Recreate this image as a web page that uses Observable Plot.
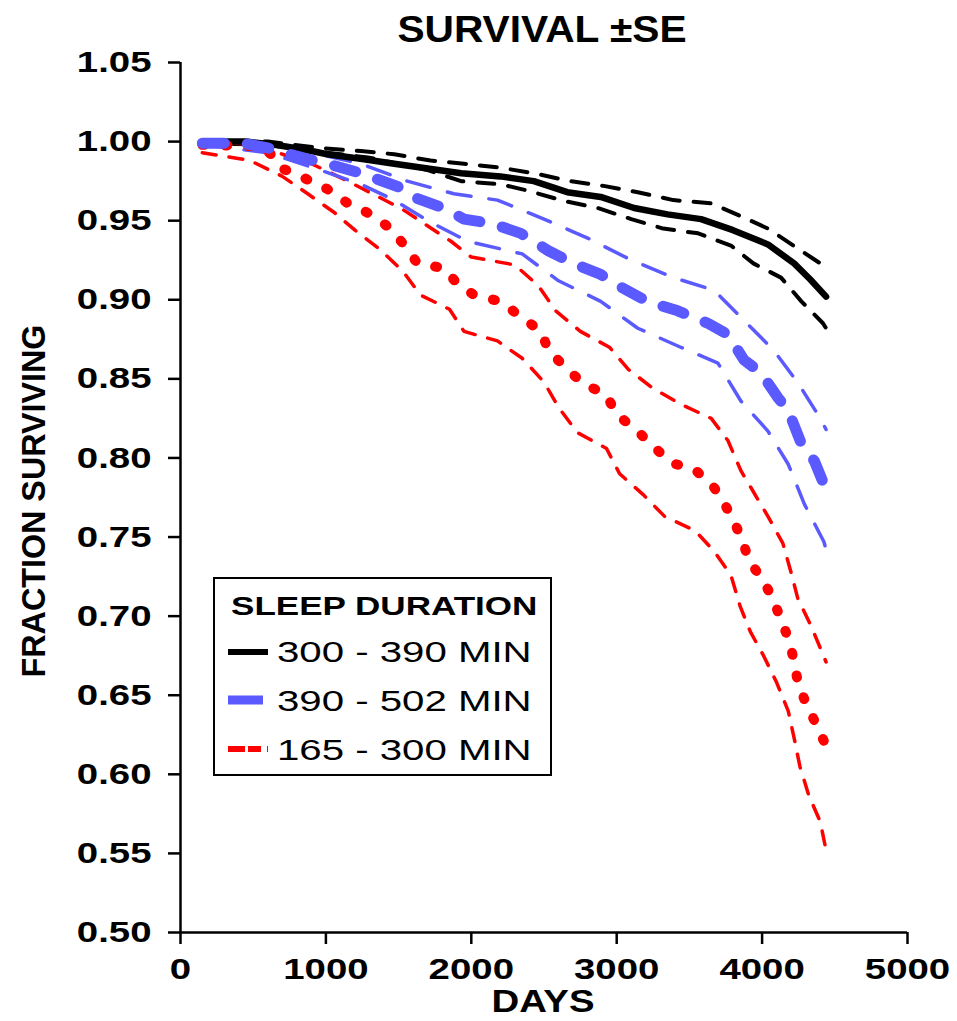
<!DOCTYPE html>
<html><head><meta charset="utf-8">
<script src="https://cdn.jsdelivr.net/npm/d3@7"></script>
<script src="https://cdn.jsdelivr.net/npm/@observablehq/plot@0.6"></script>
<style>body{margin:0;background:#fff}#chart{position:relative;width:957px;height:1021px}</style>
</head><body><div id="chart"></div>
<script>
// ---- data ----
const xTicks = [0, 1000, 2000, 3000, 4000, 5000];
const yTicks = [0.50, 0.55, 0.60, 0.65, 0.70, 0.75, 0.80, 0.85, 0.90, 0.95, 1.00, 1.05];
const seriesLabels = ["300 - 390 MIN", "390 - 502 MIN", "165 - 300 MIN"];

// 300 - 390 MIN (black)
const blackDays = [150, 450, 650, 850, 1010, 1250, 1470, 1700, 1930, 2200, 2430, 2660, 2890, 3120, 3350, 3580, 3800, 4040, 4220, 4330, 4440];
const blackSurv = [1.000, 1.000, 0.998, 0.995, 0.992, 0.989, 0.986, 0.983, 0.980, 0.978, 0.975, 0.968, 0.965, 0.958, 0.954, 0.951, 0.944, 0.935, 0.923, 0.913, 0.902];
const blackUpDays = [150, 600, 950, 1240, 1470, 1720, 1950, 2200, 2430, 2680, 2910, 3145, 3390, 3650, 3850, 4040, 4220, 4400, 4440];
const blackUpSurv = [1.000, 1.000, 0.996, 0.994, 0.992, 0.988, 0.986, 0.9835, 0.980, 0.975, 0.972, 0.968, 0.963, 0.961, 0.953, 0.945, 0.934, 0.923, 0.920];
const blackLoDays = [150, 600, 900, 1290, 1700, 1930, 2200, 2390, 2615, 2870, 3100, 3320, 3560, 3790, 3940, 4130, 4270, 4420, 4440];
const blackLoSurv = [0.999, 0.998, 0.994, 0.990, 0.982, 0.975, 0.973, 0.969, 0.963, 0.958, 0.951, 0.945, 0.942, 0.934, 0.923, 0.914, 0.899, 0.885, 0.882];

// 390 - 502 MIN (blue)
const blueDays = [150, 430, 600, 830, 1050, 1240, 1510, 1600, 1810, 1950, 2150, 2340, 2530, 2700, 2890, 3030, 3210, 3420, 3630, 3765, 3875, 3990, 4110, 4180, 4270, 4360, 4440];
const blueSurv = [0.999, 0.999, 0.996, 0.990, 0.985, 0.980, 0.971, 0.965, 0.958, 0.951, 0.948, 0.942, 0.931, 0.923, 0.916, 0.908, 0.899, 0.893, 0.885, 0.878, 0.862, 0.854, 0.838, 0.830, 0.809, 0.798, 0.780];
const blueUpDays = [150, 600, 900, 1240, 1560, 1880, 2180, 2500, 2800, 3080, 3390, 3670, 3875, 4080, 4250, 4400, 4440];
const blueUpSurv = [1.000, 0.999, 0.993, 0.986, 0.975, 0.967, 0.963, 0.951, 0.939, 0.926, 0.914, 0.906, 0.887, 0.868, 0.847, 0.825, 0.818];
const blueLoDays = [150, 600, 960, 1240, 1470, 1700, 1975, 2350, 2600, 2890, 3145, 3440, 3696, 3854, 4040, 4180, 4290, 4425, 4440];
const blueLoSurv = [0.998, 0.993, 0.982, 0.973, 0.963, 0.950, 0.937, 0.929, 0.912, 0.899, 0.882, 0.870, 0.860, 0.836, 0.817, 0.796, 0.771, 0.747, 0.742];

// 165 - 300 MIN (red)
const redDays = [150, 550, 650, 700, 850, 1010, 1150, 1310, 1445, 1535, 1630, 1810, 1906, 2020, 2200, 2330, 2480, 2530, 2650, 2770, 2930, 2994, 3130, 3235, 3370, 3530, 3650, 3730, 3806, 3868, 3909, 4005, 4074, 4129, 4184, 4219, 4246, 4301, 4370, 4440];
const redSurv = [0.998, 0.997, 0.990, 0.983, 0.977, 0.970, 0.961, 0.954, 0.945, 0.935, 0.923, 0.920, 0.910, 0.903, 0.899, 0.890, 0.880, 0.868, 0.857, 0.847, 0.840, 0.828, 0.818, 0.809, 0.797, 0.793, 0.784, 0.773, 0.760, 0.747, 0.735, 0.723, 0.711, 0.698, 0.685, 0.672, 0.658, 0.645, 0.632, 0.618];
const redUpDays = [150, 550, 700, 900, 1150, 1300, 1530, 1860, 2000, 2300, 2460, 2580, 2750, 2950, 3080, 3250, 3440, 3650, 3765, 3854, 3944, 4047, 4143, 4198, 4246, 4336, 4440];
const redUpSurv = [1.000, 0.998, 0.992, 0.986, 0.975, 0.968, 0.957, 0.937, 0.927, 0.922, 0.909, 0.893, 0.880, 0.870, 0.856, 0.844, 0.834, 0.825, 0.811, 0.792, 0.778, 0.762, 0.746, 0.728, 0.711, 0.694, 0.671];
const redLoDays = [150, 480, 700, 860, 1060, 1200, 1370, 1530, 1650, 1850, 1950, 2180, 2350, 2500, 2600, 2730, 2930, 3020, 3180, 3330, 3540, 3670, 3785, 3850, 3920, 4010, 4100, 4180, 4220, 4260, 4320, 4400, 4440];
const redLoSurv = [0.993, 0.988, 0.978, 0.968, 0.955, 0.944, 0.932, 0.918, 0.903, 0.894, 0.880, 0.874, 0.863, 0.848, 0.832, 0.816, 0.806, 0.790, 0.777, 0.763, 0.754, 0.741, 0.726, 0.706, 0.690, 0.675, 0.658, 0.640, 0.623, 0.605, 0.587, 0.570, 0.552];

const BLACK = "#000000", BLUE = "#5a5aff", RED = "#ff0000";
const FONT = "'Liberation Sans', Arial, Helvetica, sans-serif";

const toRows = (days, surv) => days.map((d, i) => ({day: d, surv: surv[i]}));
const line = (days, surv, opts) => Plot.line(toRows(days, surv), {x: "day", y: "surv", fill: "none", ...opts});

const plot = Plot.plot({
  width: 957, height: 1021,
  marginTop: 62, marginBottom: 89, marginLeft: 180, marginRight: 50,
  style: {fontFamily: FONT, fontSize: "30px", fontWeight: "bold", color: "#000", background: "#fff", overflow: "visible"},
  x: {domain: [0, 5000]},
  y: {domain: [0.5, 1.05]},
  marks: [
    Plot.axisX({ticks: xTicks, tickSize: 12, tickPadding: 13, tickFormat: d => String(d), strokeWidth: 2.5, label: null}),
    Plot.axisY({ticks: yTicks, tickSize: 12, tickPadding: 17, tickFormat: d => d.toFixed(2), strokeWidth: 2.5, label: null}),
    Plot.ruleX([0], {strokeWidth: 2.5}),
    Plot.ruleY([0.5], {strokeWidth: 2.5}),
    // SE bands (dashed)
    line(blackUpDays, blackUpSurv, {stroke: BLACK, strokeWidth: 4, strokeDasharray: "17,14"}),
    line(blackLoDays, blackLoSurv, {stroke: BLACK, strokeWidth: 4, strokeDasharray: "17,14"}),
    line(redUpDays, redUpSurv, {stroke: RED, strokeWidth: 3.5, strokeDasharray: "14,13"}),
    line(redLoDays, redLoSurv, {stroke: RED, strokeWidth: 3.5, strokeDasharray: "14,13"}),
    line(blueUpDays, blueUpSurv, {stroke: BLUE, strokeWidth: 3.5, strokeDasharray: "24,18"}),
    line(blueLoDays, blueLoSurv, {stroke: BLUE, strokeWidth: 3.5, strokeDasharray: "24,18"}),
    // main curves
    line(blackDays, blackSurv, {stroke: BLACK, strokeWidth: 6.5}),
    line(redDays, redSurv, {stroke: RED, strokeWidth: 10, strokeDasharray: "2,21", strokeLinecap: "round"}),
    line(blueDays, blueSurv, {stroke: BLUE, strokeWidth: 11, strokeDasharray: "22,23", strokeLinecap: "round"})
  ]
});

// widen tick-label glyphs horizontally around their anchor point (reference glyphs are wide)
function stretch(el, s) {
  const T = el.getAttribute("transform") || "";
  const ax = +el.getAttribute("x") || 0;
  const ay = +el.getAttribute("y") || 0;
  el.setAttribute("transform", `${T} translate(${ax},${ay}) scale(${s},1) translate(${-ax},${-ay})`);
}
plot.querySelectorAll("text").forEach(t => stretch(t, 1.28));

const svg = d3.select(plot);
function addText(str, tx, ty, {size, weight = "bold", anchor = "middle", sx = 1, rotate = 0}) {
  svg.append("text")
    .attr("transform", `translate(${tx},${ty})${rotate ? ` rotate(${rotate})` : ""} scale(${sx},1)`)
    .attr("text-anchor", anchor)
    .attr("font-family", FONT)
    .attr("font-size", size)
    .attr("font-weight", weight)
    .attr("fill", "#000")
    .text(str);
}

// title and axis titles
addText("SURVIVAL \u00B1SE", 542, 42, {size: 37, sx: 1.1});
addText("DAYS", 543, 1012, {size: 32, sx: 1.2});
addText("FRACTION SURVIVING", 45, 501, {size: 34, sx: 0.95, rotate: -90});

// legend
const lg = svg.append("g");
lg.append("rect").attr("x", 214).attr("y", 578).attr("width", 337).attr("height", 197)
  .attr("fill", "#fff").attr("stroke", "#000").attr("stroke-width", 2);
addText("SLEEP DURATION", 231, 615, {size: 25.6, anchor: "start", sx: 1.37});
const swatches = [
  {color: BLACK, w: 6, x2: 268, dash: null, y: 652},
  {color: BLUE, w: 9, x2: 263, dash: null, y: 700},
  {color: RED, w: 6, x2: 268, dash: "17,3,13,6", y: 749}
];
swatches.forEach(s => {
  const l = lg.append("line").attr("x1", 228).attr("x2", s.x2).attr("y1", s.y).attr("y2", s.y)
    .attr("stroke", s.color).attr("stroke-width", s.w);
  if (s.dash) l.attr("stroke-dasharray", s.dash);
});
const labelBaselines = [662, 711, 760];
seriesLabels.forEach((lab, i) => addText(lab, 277, labelBaselines[i], {size: 30, weight: "normal", anchor: "start", sx: 1.34}));

document.getElementById("chart").appendChild(plot);
</script>
</body></html>
